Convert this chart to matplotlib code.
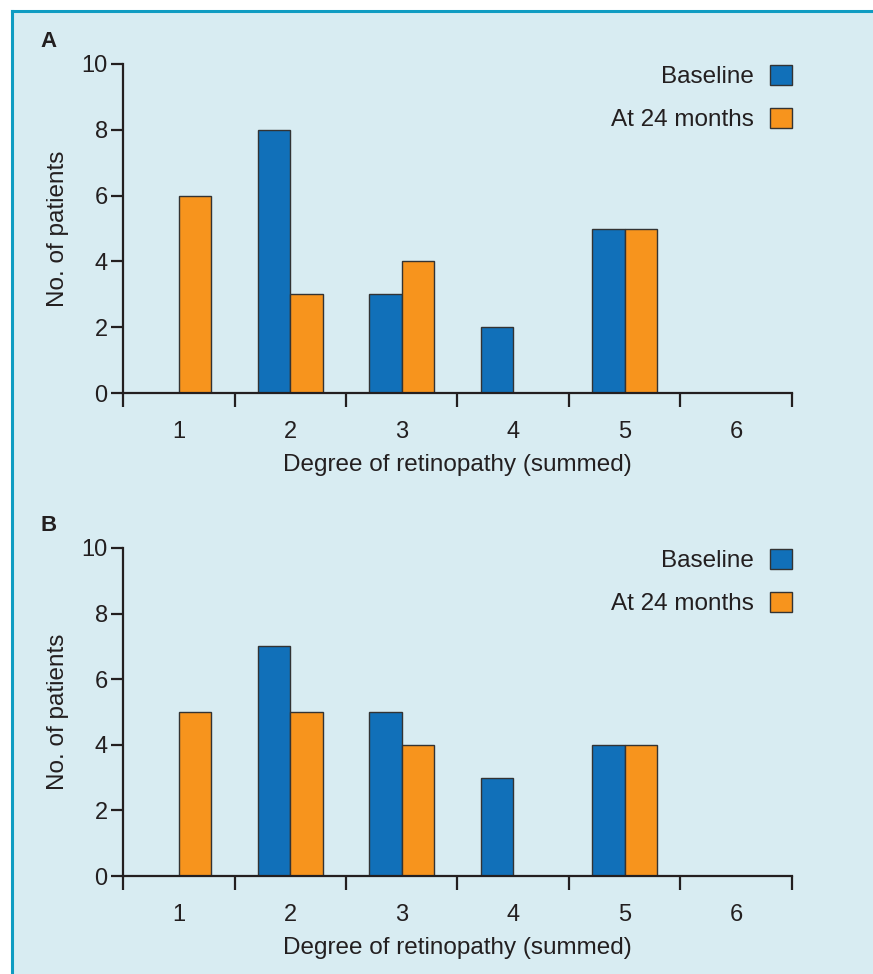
import matplotlib.pyplot as plt
from matplotlib.patches import Rectangle, Patch

# data
categories = [1, 2, 3, 4, 5, 6]
baseline_a = [0, 8, 3, 2, 5, 0]
month24_a = [6, 3, 4, 0, 5, 0]
baseline_b = [0, 7, 5, 3, 4, 0]
month24_b = [5, 5, 4, 0, 4, 0]

bg = "#d8ecf2"
teal = "#0f9cc2"
blue = "#1170b9"
orange = "#f7941d"
ink = "#231f20"

plt.rcParams['font.family'] = ['Liberation Sans', 'DejaVu Sans']

fig = plt.figure(figsize=(8.73, 9.74), dpi=100)
fig.patch.set_facecolor("white")

# panel background with teal border on top and left
fig.add_artist(Rectangle((12 / 873, -0.01), 1.0, 963 / 974 + 0.01,
                         transform=fig.transFigure, facecolor=bg,
                         edgecolor="none", zorder=-5))
fig.add_artist(plt.Line2D([12 / 873, 1.0], [963 / 974, 963 / 974],
                          transform=fig.transFigure, color=teal, lw=2.2,
                          zorder=-4))
fig.add_artist(plt.Line2D([12 / 873, 12 / 873], [0, 963 / 974],
                          transform=fig.transFigure, color=teal, lw=2.2,
                          zorder=-4))


def draw_panel(ax, base, m24, letter):
    w = 0.29
    ax.set_facecolor("none")
    xs = list(categories)
    ax.bar([x - w / 2 for x in xs], base, width=w, color=blue,
           edgecolor="#333333", lw=1, zorder=3)
    ax.bar([x + w / 2 for x in xs], m24, width=w, color=orange,
           edgecolor="#333333", lw=1, zorder=3)

    ax.set_xlim(0.5, 6.5)
    ax.set_ylim(0, 10)
    for s in ["top", "right"]:
        ax.spines[s].set_visible(False)
    for s in ["left", "bottom"]:
        ax.spines[s].set_linewidth(1.6)
        ax.spines[s].set_color(ink)
        ax.spines[s].set_zorder(4)

    ax.set_yticks(range(0, 11, 2))
    ax.tick_params(axis="y", direction="out", length=9, width=1.6,
                   color=ink, labelsize=17, labelcolor=ink, pad=2)
    # boundary ticks, labels centred in each category
    ax.set_xticks([c - 0.5 for c in categories] + [6.5])
    ax.set_xticklabels([])
    ax.set_xticks(categories, minor=True)
    ax.set_xticklabels([str(c) for c in categories], minor=True)
    ax.tick_params(axis="x", which="major", direction="out", length=10,
                   width=1.6, color=ink)
    ax.tick_params(axis="x", which="minor", length=0, labelsize=17,
                   labelcolor=ink, pad=20)

    ax.set_ylabel("No. of patients", fontsize=17.5, color=ink, labelpad=9)
    ax.set_xlabel("Degree of retinopathy (summed)", fontsize=17.5, color=ink,
                  labelpad=8)

    handles = [Patch(facecolor=blue, edgecolor="#333333", lw=1),
               Patch(facecolor=orange, edgecolor="#333333", lw=1)]
    leg = ax.legend(handles, ["Baseline", "At 24 months"], loc="upper right",
                    bbox_to_anchor=(1.0, 0.998), markerfirst=False,
                    frameon=False, fontsize=17.5, handlelength=0.92,
                    handleheight=0.92, handletextpad=0.66, labelspacing=0.8,
                    borderaxespad=0.0, borderpad=0.0)
    for t in leg.get_texts():
        t.set_color(ink)

    ax.text(-0.124, 1.035, letter, transform=ax.transAxes, fontsize=16,
            fontweight="bold", color=ink, ha="left", va="bottom")


ax_a = fig.add_axes([0.1409, 0.5965, 0.7663, 0.3378])
ax_b = fig.add_axes([0.1409, 0.1006, 0.7663, 0.3368])
draw_panel(ax_a, baseline_a, month24_a, "A")
draw_panel(ax_b, baseline_b, month24_b, "B")

fig.savefig("out.png", dpi=100, facecolor=fig.get_facecolor())
